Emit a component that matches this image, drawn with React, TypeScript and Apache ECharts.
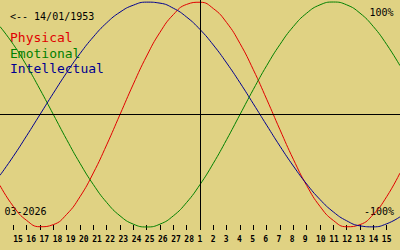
import React, { useEffect, useRef } from "react";
import * as echarts from "echarts";

// Day labels from 14 Feb 2026 to 16 Mar 2026
const DAY_LABELS = [
  "14", "15", "16", "17", "18", "19", "20", "21", "22", "23", "24", "25", "26", "27", "28",
  "1", "2", "3", "4", "5", "6", "7", "8", "9", "10", "11", "12", "13", "14", "15", "16",
];

const PHYSICAL = [
  -0.631, -0.817, -0.942, -0.998, -0.979, -0.888, -0.731, -0.52, -0.27, 0, 0.27, 0.52, 0.731,
  0.888, 0.979, 0.998, 0.942, 0.817, 0.631, 0.398, 0.136, -0.136, -0.398, -0.631, -0.817,
  -0.942, -0.998, -0.979, -0.888, -0.731, -0.52,
];

const EMOTIONAL = [
  0.782, 0.623, 0.434, 0.223, 0, -0.223, -0.434, -0.623, -0.782, -0.901, -0.975, -1, -0.975,
  -0.901, -0.782, -0.623, -0.434, -0.223, 0, 0.223, 0.434, 0.623, 0.782, 0.901, 0.975, 1,
  0.975, 0.901, 0.782, 0.623, 0.434,
];

const INTELLECTUAL = [
  -0.541, -0.372, -0.189, 0, 0.189, 0.372, 0.541, 0.69, 0.815, 0.91, 0.972, 0.999, 0.99, 0.945,
  0.866, 0.756, 0.618, 0.458, 0.282, 0.095, -0.095, -0.282, -0.458, -0.618, -0.756, -0.866,
  -0.945, -0.99, -0.999, -0.972, -0.91,
];

const TODAY_INDEX = 15;
const BIRTH_TEXT = "<-- 14/01/1953";
const MONTH_TEXT = "03-2026";
const TOP_TEXT = "100%";
const BOTTOM_TEXT = "-100%";

const BG = "#e0d283";
const RED = "#e00000";
const GREEN = "#008000";
const BLUE = "#000090";
const MONO = '"DejaVu Sans Mono", monospace';

export default function App() {
  const ref = useRef<HTMLDivElement>(null);

  useEffect(() => {
    if (!ref.current) return;
    const chart = echarts.init(ref.current, null, { renderer: "svg" });
    const last = DAY_LABELS.length - 1;
    const inner = (i: number) => i > 0 && i < last;

    const lineSeries = (name: string, data: number[], color: string) => ({
      name,
      type: "line",
      data,
      smooth: 0.5,
      showSymbol: false,
      symbol: "none",
      lineStyle: { color, width: 1 },
      xAxisIndex: 0,
      yAxisIndex: 0,
      silent: true,
    });

    const textEl = (text: string, x: number, y: number, color: string, size: number, align = "left") => ({
      type: "text",
      x,
      y,
      silent: true,
      style: {
        text,
        fill: color,
        font: `${size}px ${MONO}`,
        align,
        verticalAlign: "middle",
        textAlign: align,
        textVerticalAlign: "middle",
      },
    });

    chart.setOption({
      animation: false,
      backgroundColor: BG,
      grid: [
        { left: 0, top: 0, width: 400, height: 230 },
        { left: -5, top: 0, width: 400, height: 230 },
      ],
      xAxis: [
        {
          type: "category",
          gridIndex: 0,
          position: "bottom",
          data: DAY_LABELS,
          boundaryGap: false,
          axisLine: { show: false, onZero: false },
          axisTick: {
            show: true,
            inside: true,
            length: 5,
            interval: (i: number) => inner(i),
            lineStyle: { color: "#000", width: 1 },
          },
          axisLabel: { show: false },
          splitLine: { show: false },
        },
        {
          type: "category",
          gridIndex: 1,
          position: "bottom",
          data: DAY_LABELS,
          boundaryGap: false,
          axisLine: { show: false, onZero: false },
          axisTick: { show: false },
          axisLabel: {
            show: true,
            interval: (i: number) => inner(i),
            align: "left",
            margin: 5,
            color: "#000",
            fontFamily: MONO,
            fontSize: 8,
            fontWeight: "bold",
          },
          splitLine: { show: false },
        },
      ],
      yAxis: [
        {
          type: "value",
          gridIndex: 0,
          min: -1.027,
          max: 1.018,
          show: false,
          splitLine: { show: false },
        },
        { type: "value", gridIndex: 1, min: -1, max: 1, show: false },
      ],
      series: [
        lineSeries("Physical", PHYSICAL, RED),
        lineSeries("Emotional", EMOTIONAL, GREEN),
        {
          ...lineSeries("Intellectual", INTELLECTUAL, BLUE),
          markLine: {
            silent: true,
            symbol: "none",
            label: { show: false },
            lineStyle: { color: "#000", width: 1, type: "solid" },
            data: [{ xAxis: TODAY_INDEX }, { yAxis: 0 }],
          },
        },
      ],
      graphic: [
        textEl(BIRTH_TEXT, 10, 16.7, "#000", 10),
        textEl("Physical", 10, 37.5, RED, 13),
        textEl("Emotional", 10, 53, GREEN, 13),
        textEl("Intellectual", 10, 68.5, BLUE, 13),
        textEl(TOP_TEXT, 393.5, 12, "#000", 10, "right"),
        textEl(BOTTOM_TEXT, 394, 211.5, "#000", 10, "right"),
        textEl(MONTH_TEXT, 4.5, 211.7, "#000", 10),
      ],
    });

    return () => chart.dispose();
  }, []);

  return (
    <div
      ref={ref}
      style={{ position: "absolute", left: 0, top: 0, width: 400, height: 250 }}
    />
  );
}
